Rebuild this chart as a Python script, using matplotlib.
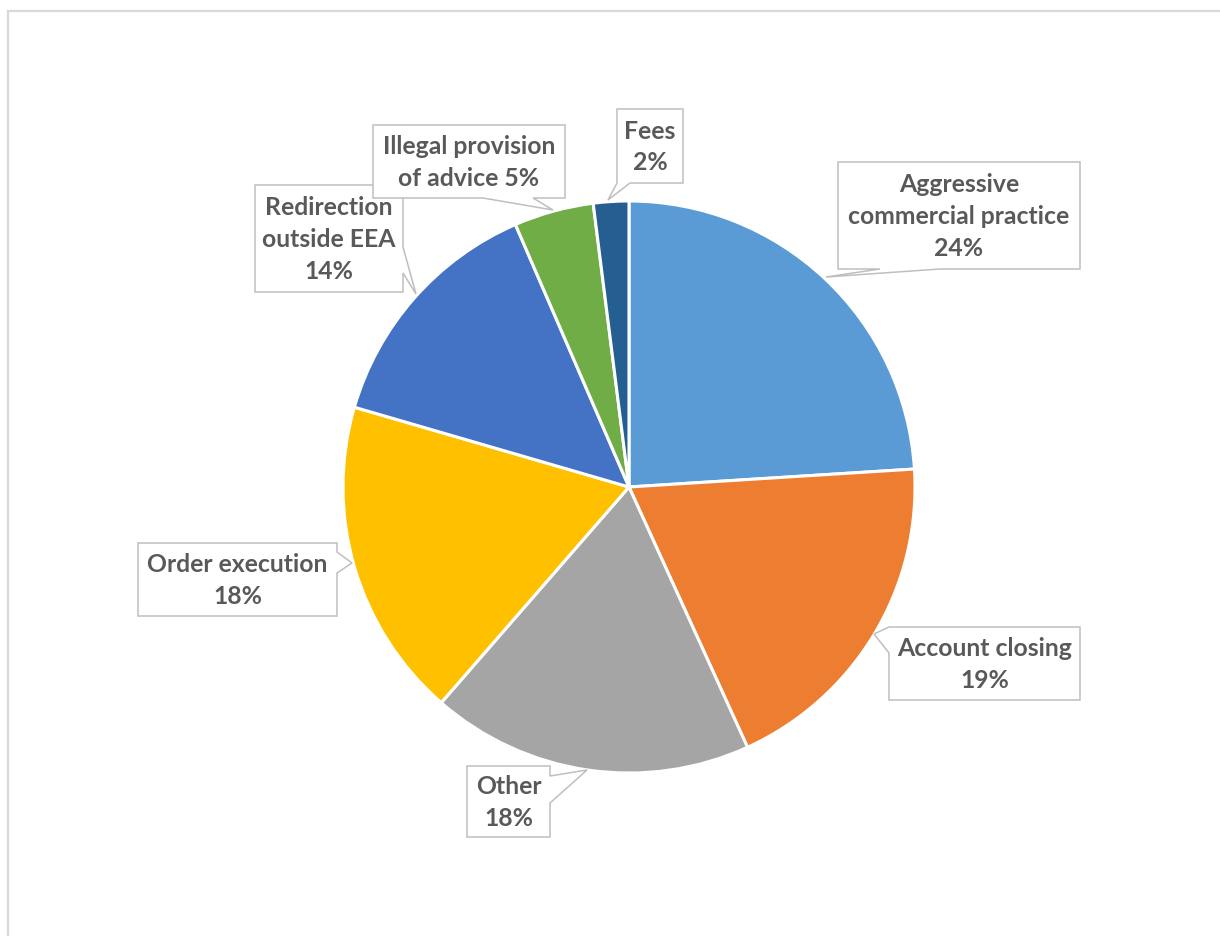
import matplotlib.pyplot as plt
from matplotlib.patches import Polygon

# données du graphique (sens horaire depuis le haut)
categories = ["Aggressive commercial practice", "Account closing", "Other",
              "Order execution", "Redirection outside EEA",
              "Illegal provision of advice", "Fees"]
valeurs = [24.0, 19.2, 18.2, 18.1, 14.0, 4.5, 2.0]
etiquettes = ["Aggressive\ncommercial practice\n24%", "Account closing\n19%",
              "Other\n18%", "Order execution\n18%",
              "Redirection\noutside EEA\n14%", "Illegal provision\nof advice 5%",
              "Fees\n2%"]
couleurs = ["#5B9BD5", "#ED7D31", "#A5A5A5", "#FFC000", "#4472C4", "#70AD47", "#255E91"]

W, H = 1220, 936

def Y(y):  # coordonnées pixel (origine en haut) -> données
    return H - y

fig = plt.figure(figsize=(W / 100, H / 100), dpi=100)
ax = fig.add_axes([0, 0, 1, 1])

ax.pie(valeurs, colors=couleurs, startangle=90, counterclock=False,
       center=(629, Y(487)), radius=286,
       wedgeprops=dict(edgecolor="white", linewidth=2.2))
ax.set_xlim(0, W)
ax.set_ylim(0, H)
ax.set_aspect("equal")
ax.axis("off")

# cadre de la zone du graphique (bords gauche et haut visibles)
ax.plot([8, 8], [Y(11), 0], color="#D9D9D9", lw=1.6)
ax.plot([8, W], [Y(11), Y(11)], color="#D9D9D9", lw=1.6)

# boîtes des étiquettes: (x0, y0, x1, y1), côté de la pointe, (a, b), pointe
boites = [
    ((838, 162, 1080, 269), "bottom", (880, 940), (826, 277)),
    ((889, 627, 1080, 700), "left", (627, 653), (874, 634)),
    ((467, 766, 550, 837), "right", (776, 803), (587, 770)),
    ((138, 543, 337, 616), "right", (552, 573), (352, 563)),
    ((255, 185, 403, 292), "right", (247, 273), (416, 294)),
    ((373, 125, 565, 198), "bottom", (483, 533), (553, 210)),
    ((617, 109, 683, 183), "bottom", (617, 630), (608, 200)),
]

for i, ((x0, y0, x1, y1), cote, (a, b), (tx, ty)) in enumerate(boites):
    if cote == "bottom":
        pts = [(x0, y0), (x1, y0), (x1, y1), (b, y1), (tx, ty), (a, y1), (x0, y1)]
    elif cote == "left":
        pts = [(x0, y0), (x1, y0), (x1, y1), (x0, y1), (x0, b), (tx, ty), (x0, a)]
    else:  # right
        pts = [(x0, y0), (x1, y0), (x1, a), (tx, ty), (x1, b), (x1, y1), (x0, y1)]
    ax.add_patch(Polygon([(px, Y(py)) for px, py in pts], closed=True,
                         facecolor="white", edgecolor="#BFBFBF", lw=1.1, zorder=5))
    ax.text((x0 + x1) / 2, Y((y0 + y1) / 2 + 1), etiquettes[i], ha="center", va="center",
            fontsize=17.8, fontweight="bold", family="Lato", color="#595959",
            linespacing=1.45, zorder=6)

fig.savefig("out.png", dpi=100, facecolor="white")
